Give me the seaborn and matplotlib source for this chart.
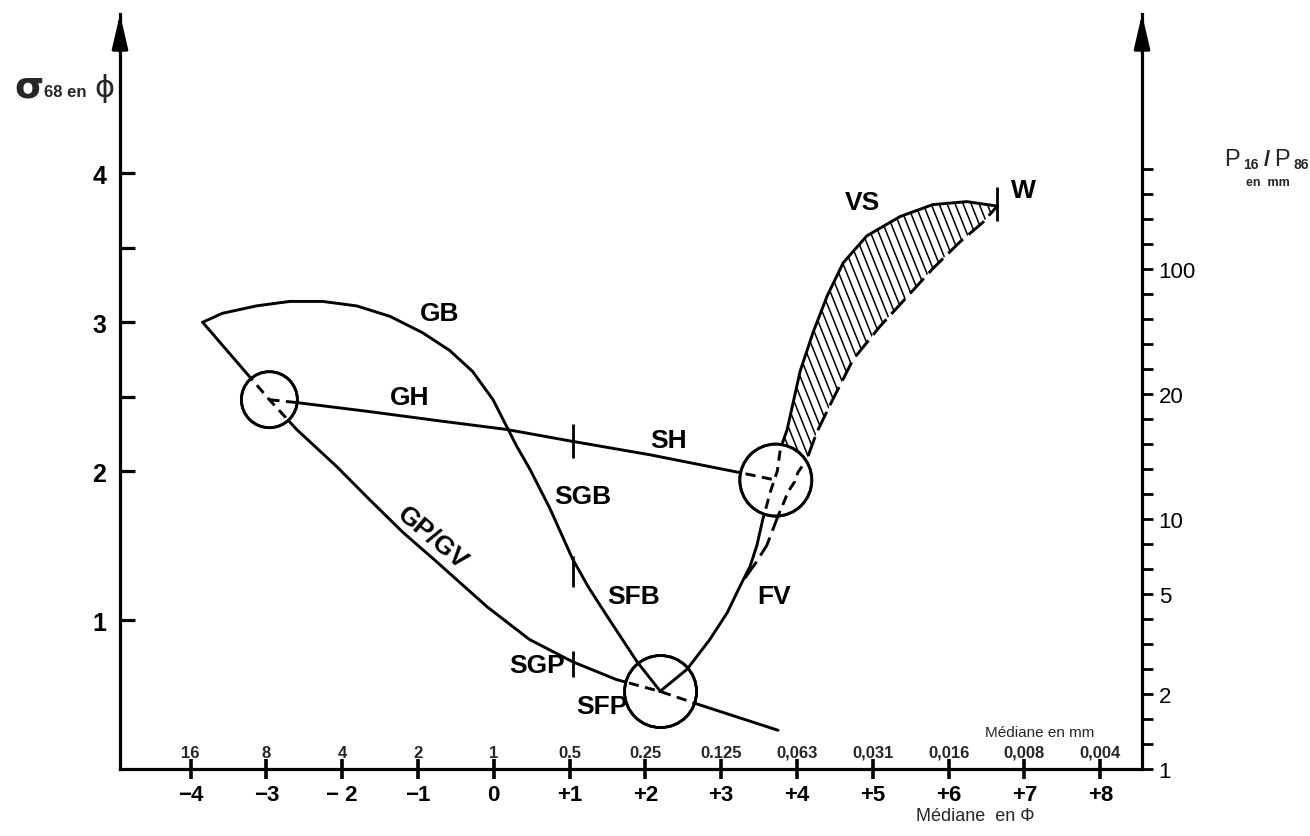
import numpy as np
import matplotlib
matplotlib.use("Agg")
import matplotlib.pyplot as plt
import seaborn as sns
from matplotlib.patches import Ellipse, Polygon
from matplotlib.collections import LineCollection

# ------------------------------------------------------------------ data
phi_ticks = [-4, -3, -2, -1, 0, 1, 2, 3, 4, 5, 6, 7, 8]
phi_labels = ["−4", "−3", "− 2", "−1", "0", "+1", "+2", "+3", "+4", "+5", "+6", "+7", "+8"]
mm_labels = ["16", "8", "4", "2", "1", "0.5", "0.25", "0.125", "0,063",
             "0,031", "0,016", "0,008", "0,004"]
sigma_ticks = [1, 2, 2.5, 3, 3.5, 4]
sigma_labels = ["1", "2", "", "3", "", "4"]
ratio_ticks_log = [0.0, 0.1, 0.2, 0.3, 0.4, 0.5, 0.6, 0.7, 0.8, 0.9, 1.0, 1.1, 1.2,
                   1.3, 1.4, 1.5, 1.6, 1.7, 1.8, 1.9, 2.0, 2.1, 2.2, 2.3, 2.4]
ratio_label_log = [0.0, 0.3, 0.7, 1.0, 1.5, 2.0]
ratio_labels = ["1", "2", "5", "10", "20", "100"]

# GB -> SGB -> SFB curve
gb_phi = [-3.84, -3.58, -3.13, -2.69, -2.26, -1.81, -1.37, -0.94, -0.58, -0.28,
          -0.01, 0.17, 0.30, 0.48, 0.74, 1.04, 1.25, 1.49, 1.89, 2.20]
gb_sig = [3.00, 3.06, 3.11, 3.14, 3.14, 3.11, 3.04, 2.93, 2.81, 2.67,
          2.48, 2.30, 2.17, 2.01, 1.75, 1.41, 1.22, 1.03, 0.72, 0.52]
# GP/GV -> SGP -> SFP curve
gp_phi = [-3.84, -2.96, -2.60, -2.07, -1.64, -1.20, -0.75, -0.09, 0.47, 1.04,
          1.62, 2.20, 2.72, 3.75]
gp_sig = [3.00, 2.48, 2.28, 2.03, 1.81, 1.59, 1.39, 1.09, 0.87, 0.72,
          0.60, 0.52, 0.43, 0.26]
# GH -> SH line
gh_phi = [-2.96, -2.59, -1.64, -0.75, 0.17, 1.04, 2.06, 3.25, 3.72]
gh_sig = [2.48, 2.46, 2.40, 2.34, 2.28, 2.20, 2.11, 1.99, 1.94]
# FV -> VS -> W (solid, upper)
fv_phi = [2.19, 2.55, 2.85, 3.08, 3.25, 3.38, 3.47, 3.55, 3.60, 3.64, 3.74, 3.78,
          3.87, 4.04, 4.21, 4.40, 4.61, 4.92, 5.36, 5.79, 6.24, 6.64]
fv_sig = [0.52, 0.67, 0.87, 1.05, 1.23, 1.36, 1.50, 1.68, 1.77, 1.85, 2.00, 2.15,
          2.28, 2.67, 2.93, 3.18, 3.40, 3.58, 3.71, 3.79, 3.81, 3.78]
# dashed lower limit up to W
dl_phi = [3.31, 3.45, 3.60, 3.75, 3.81, 3.88, 3.97, 4.01, 4.13, 4.26, 4.47, 4.74,
          5.09, 5.45, 5.79, 6.15, 6.45, 6.64]
dl_sig = [1.28, 1.38, 1.50, 1.70, 1.77, 1.86, 1.93, 1.99, 2.08, 2.26, 2.48, 2.75,
          2.97, 3.17, 3.36, 3.54, 3.67, 3.78]

# circles (centre phi, centre sigma)
circ_phi = [-2.96, 2.20, 3.72]
circ_sig = [2.48, 0.52, 1.94]

# short cross ticks on the curves
tick_phi = [1.04, 1.05, 1.04, 6.64]
tick_lo = [2.09, 1.22, 0.62, 3.68]
tick_hi = [2.32, 1.43, 0.79, 3.91]

# curve labels
lab_text = ["GB", "GH", "SH", "SGB", "GP/GV", "SFB", "SGP", "SFP", "FV", "VS", "W"]
lab_phi = [-0.71, -1.11, 2.31, 1.17, -0.81, 1.85, 0.57, 1.43, 3.70, 4.86, 6.98]
lab_sig = [3.06, 2.50, 2.21, 1.83, 1.56, 1.16, 0.70, 0.42, 1.16, 3.81, 3.89]
lab_rot = [0, 0, 0, 0, -40, 0, 0, 0, 0, 0, 0]

# ------------------------------------------------------------------ layout
FIG_W, FIG_H = 1310, 837
AX_L, AX_R, AX_B, AX_T = 120, 1142, 770, 15
XMIN, XMAX = -4.93, 8.55
YMIN, YMAX = 0.0, 5.07
PXPHI = (AX_R - AX_L) / (XMAX - XMIN)
PXSIG = (AX_B - AX_T) / (YMAX - YMIN)
SIG_PER_DECADE = 250.0 / PXSIG
CIRC_R_PX = [28, 36, 36]
LW = 2.1

sns.set_theme(style="white")
plt.rcParams["font.family"] = ["Liberation Sans", "DejaVu Sans"]
plt.rcParams["axes.edgecolor"] = "black"

fig = plt.figure(figsize=(FIG_W / 100, FIG_H / 100), dpi=100)
fig.patch.set_facecolor("white")
ax = fig.add_axes([AX_L / FIG_W, 1 - AX_B / FIG_H,
                   (AX_R - AX_L) / FIG_W, (AX_B - AX_T) / FIG_H])
ax.set_facecolor("none")
ax.set_xlim(XMIN, XMAX)
ax.set_ylim(YMIN, YMAX)
for s in ["top", "right"]:
    ax.spines[s].set_visible(False)
for s in ["left", "bottom"]:
    ax.spines[s].set_linewidth(2.3)
    ax.spines[s].set_color("black")

# x ticks (phi)
ax.set_xticks(phi_ticks)
ax.set_xticklabels(phi_labels)
ax.tick_params(axis="x", direction="inout", length=14, width=2.6, pad=4,
               labelsize=16, colors="black")
for t in ax.get_xticklabels():
    t.set_fontweight("bold")
# y ticks (sigma)
ax.set_yticks(sigma_ticks)
ax.set_yticklabels(sigma_labels)
ax.tick_params(axis="y", direction="in", length=11, width=2.3, pad=10,
               labelsize=18, colors="black")
for t in ax.get_yticklabels():
    t.set_fontweight("bold")

# mm scale above the phi axis
ax_mm = ax.twiny()
ax_mm.set_xlim(XMIN, XMAX)
ax_mm.set_xticks(phi_ticks)
ax_mm.set_xticklabels(mm_labels)
ax_mm.spines["top"].set_position(("axes", 0.0))
for s in ax_mm.spines.values():
    s.set_visible(False)
ax_mm.xaxis.set_ticks_position("top")
ax_mm.tick_params(axis="x", length=0, pad=6.5, labelsize=12)
for t in ax_mm.get_xticklabels():
    t.set_fontweight("bold")
ax_mm.set_facecolor("none")

# right axis P16/P86 (log scale drawn as linear decades)
ax_r = ax.twinx()
ax_r.set_ylim(0, YMAX / SIG_PER_DECADE)
for s in ["left", "top", "bottom"]:
    ax_r.spines[s].set_visible(False)
ax_r.spines["right"].set_linewidth(2.3)
ax_r.spines["right"].set_color("black")
ax_r.set_yticks(ratio_ticks_log)
lbls = []
for v in ratio_ticks_log:
    hit = [l for p, l in zip(ratio_label_log, ratio_labels) if abs(p - v) < 1e-6]
    lbls.append(hit[0] if hit else "")
ax_r.set_yticklabels(lbls)
ax_r.tick_params(axis="y", direction="out", length=8, width=2.0, pad=4,
                 labelsize=16, colors="black")
ax_r.set_facecolor("none")
ax_r.grid(False)
ax_mm.grid(False)
ax.grid(False)

# arrow heads on both vertical axes
for xa in (0.0, 1.0):
    ax.annotate("", xy=(xa, 1.0), xytext=(xa, 0.95), xycoords="axes fraction",
                textcoords="axes fraction", annotation_clip=False,
                arrowprops=dict(arrowstyle="-|>,head_length=0.95,head_width=0.22",
                                mutation_scale=22, lw=2.3, color="black",
                                shrinkA=0, shrinkB=0))

# ------------------------------------------------------------------ hatching
upper = [(p, s) for p, s in zip(fv_phi, fv_sig) if p >= 3.74]
lower = [(p, s) for p, s in zip(dl_phi, dl_sig) if p >= 4.0]
poly = Polygon(upper + lower[::-1], closed=True, facecolor="none",
               edgecolor="none", transform=ax.transData)
ax.add_patch(poly)
slope_px = 2.5
segs = []
for p0 in np.arange(1.6, 7.2, 8.0 / PXPHI):
    t = 260.0
    segs.append([(p0, 4.4), (p0 + t / PXPHI, 4.4 - slope_px * t / PXSIG)])
lc = LineCollection(segs, colors="black", linewidths=1.1, zorder=1)
ax.add_collection(lc)
lc.set_clip_path(poly)

# ------------------------------------------------------------------ curves
for xs, ys in [(gb_phi, gb_sig), (gp_phi, gp_sig), (gh_phi, gh_sig), (fv_phi, fv_sig)]:
    sns.lineplot(x=xs, y=ys, sort=False, estimator=None, color="black",
                 lw=LW, ax=ax, zorder=2)
sns.lineplot(x=dl_phi, y=dl_sig, sort=False, estimator=None, color="black",
             lw=LW, ax=ax, zorder=2, linestyle=(0, (7, 2.5)))

# circles with white interior
circles = []
for cp, cs, r in zip(circ_phi, circ_sig, CIRC_R_PX):
    e = Ellipse((cp, cs), 2 * r / PXPHI, 2 * r / PXSIG, facecolor="white",
                edgecolor="black", lw=2.0, zorder=3)
    ax.add_patch(e)
    circles.append(e)

inside = {
    0: [(gp_phi, gp_sig, "dash"), (gh_phi, gh_sig, "dash")],
    1: [(gb_phi, gb_sig, "solid"), (fv_phi, fv_sig, "solid"), (gp_phi, gp_sig, "dash")],
    2: [(gh_phi, gh_sig, "dash"), (fv_phi, fv_sig, "dash"), (dl_phi, dl_sig, "dash")],
}
for i, items in inside.items():
    for xs, ys, style in items:
        ls = "-" if style == "solid" else (0, (3.5, 2.2))
        ln, = ax.plot(xs, ys, color="black", lw=LW, ls=ls, zorder=4)
        ln.set_clip_path(circles[i])
    edge = Ellipse(circles[i].center, circles[i].width, circles[i].height,
                   facecolor="none", edgecolor="black", lw=2.0, zorder=4.5)
    ax.add_patch(edge)

# short ticks crossing curves
ax.vlines(tick_phi, tick_lo, tick_hi, colors="black", lw=2.0, zorder=4)

# labels
for txt, p, s, r in zip(lab_text, lab_phi, lab_sig, lab_rot):
    ax.text(p, s, txt, ha="center", va="center", rotation=r, fontsize=19,
            fontweight="bold", color="black", zorder=6)


# ------------------------------------------------------------------ axis titles
def ftext(xp, yp, s, **kw):
    fig.text(xp / FIG_W, 1 - yp / FIG_H, s, **kw)


ftext(14, 98, "σ", fontsize=27, fontweight="bold", ha="left", va="baseline",
      family=["DejaVu Sans"])
ftext(44, 97, "68 en", fontsize=12, fontweight="bold", ha="left", va="baseline")
ftext(104, 97, "ϕ", fontsize=22, ha="center", va="baseline", family=["DejaVu Sans"])

# P16 / P86 en mm
ftext(1224, 166, "P", fontsize=17, ha="left", va="baseline")
ftext(1243, 169, "16", fontsize=10, fontweight="bold", ha="left", va="baseline")
ftext(1267, 166, "/", fontsize=16, fontweight="bold", ha="center", va="baseline")
ftext(1274, 166, "P", fontsize=17, ha="left", va="baseline")
ftext(1293, 169, "86", fontsize=10, fontweight="bold", ha="left", va="baseline")
ftext(1268, 186, "en  mm", fontsize=9, fontweight="bold", ha="center", va="baseline")

ftext(1040, 733, "Médiane en mm", fontsize=11, ha="center", va="center")
ftext(975, 817, "Médiane  en Φ", fontsize=13, ha="center", va="center")

fig.savefig("out.png", dpi=100, facecolor="white")
